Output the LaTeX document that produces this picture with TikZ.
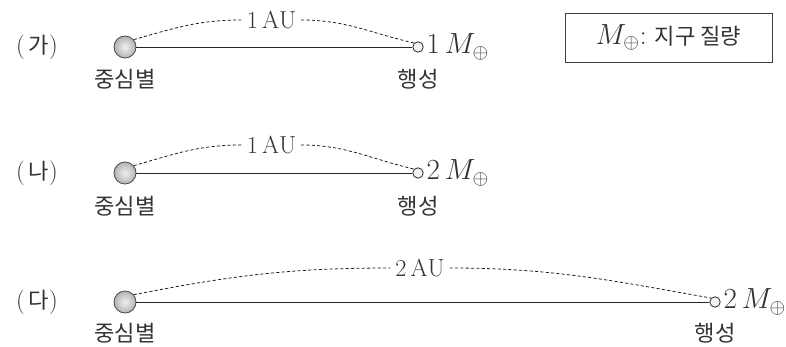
\documentclass[tikz,border=0pt]{standalone}
\usepackage{fontspec}
\usepackage{amsmath, amssymb}
\usepackage{tikz}
\newfontfamily\kr{Noto Sans CJK KR}[Scale=0.9]

\begin{document}
\begin{tikzpicture}[x=0.025cm, y=-0.025cm,
    font=\fontsize{17.5}{21}\selectfont, text=black!80,
    star/.style={draw=black!70, circle, shading=radial, inner color=gray!12, outer color=gray!60, minimum size=0.55cm, inner sep=0pt, line width=0.6pt},
    planet/.style={draw=black!80, circle, fill=gray!10, minimum size=0.26cm, inner sep=0pt, line width=0.6pt},
    orbit/.style={draw=black!85, line width=0.65pt},
    dist/.style={draw=black!90, dashed, dash pattern=on 2.2pt off 1.6pt, line width=0.55pt},
    mass/.style={anchor=west, inner sep=1pt, font=\fontsize{19.5}{23}\selectfont}]
    \useasboundingbox (0,0) rectangle (786,347);
            % (ga)
            \node at (37, 47) (l1) {(\,{\kr 가})};
            \node[star] at (125, 47) (s1) {};
            \node[planet] at (418, 47) (p1) {};
            \node at (271.5, 20) (d1) {$1\,\mathrm{AU}$};
            \node[mass] at (425, 47) (m1) {$1\,M_{\oplus}$};
            \node at (125, 79) (c1) {\kr 중심별};
            \node at (418, 79) (h1) {\kr 행성};
            \draw[orbit] (s1) edge (p1);
            \draw[dist] (s1.40) to[out=16, in=180] (d1.west);
            \draw[dist] (d1.east) to[out=0, in=167] (p1.135);
            % (na)
            \node at (37, 173) (l2) {(\,{\kr 나})};
            \node[star] at (125, 173) (s2) {};
            \node[planet] at (418, 173) (p2) {};
            \node at (271.5, 145) (d2) {$1\,\mathrm{AU}$};
            \node[mass] at (425, 173) (m2) {$2\,M_{\oplus}$};
            \node at (125, 206) (c2) {\kr 중심별};
            \node at (418, 206) (h2) {\kr 행성};
            \draw[orbit] (s2) edge (p2);
            \draw[dist] (s2.40) to[out=16, in=180] (d2.west);
            \draw[dist] (d2.east) to[out=0, in=167] (p2.135);
            % (da)
            \node at (37, 302) (l3) {(\,{\kr 다})};
            \node[star] at (125, 302) (s3) {};
            \node[planet] at (715, 302) (p3) {};
            \node at (420, 268) (d3) {$2\,\mathrm{AU}$};
            \node[mass] at (722, 302) (m3) {$2\,M_{\oplus}$};
            \node at (125, 333) (c3) {\kr 중심별};
            \node at (715, 333) (h3) {\kr 행성};
            \draw[orbit] (s3) edge (p3);
            \draw[dist] (s3.40) to[out=11, in=180] (d3.west);
            \draw[dist] (d3.east) to[out=0, in=170] (p3.135);
            % key
            \node[draw=black!75, line width=0.5pt, minimum width=5.175cm, minimum height=1.225cm, font=\fontsize{19.5}{23}\selectfont]
                at (668.5, 37.5) (key) {$M_{\oplus}$:\ {\kr\fontsize{17.5}{21}\selectfont 지구 질량}};
    \end{tikzpicture}
\end{document}
